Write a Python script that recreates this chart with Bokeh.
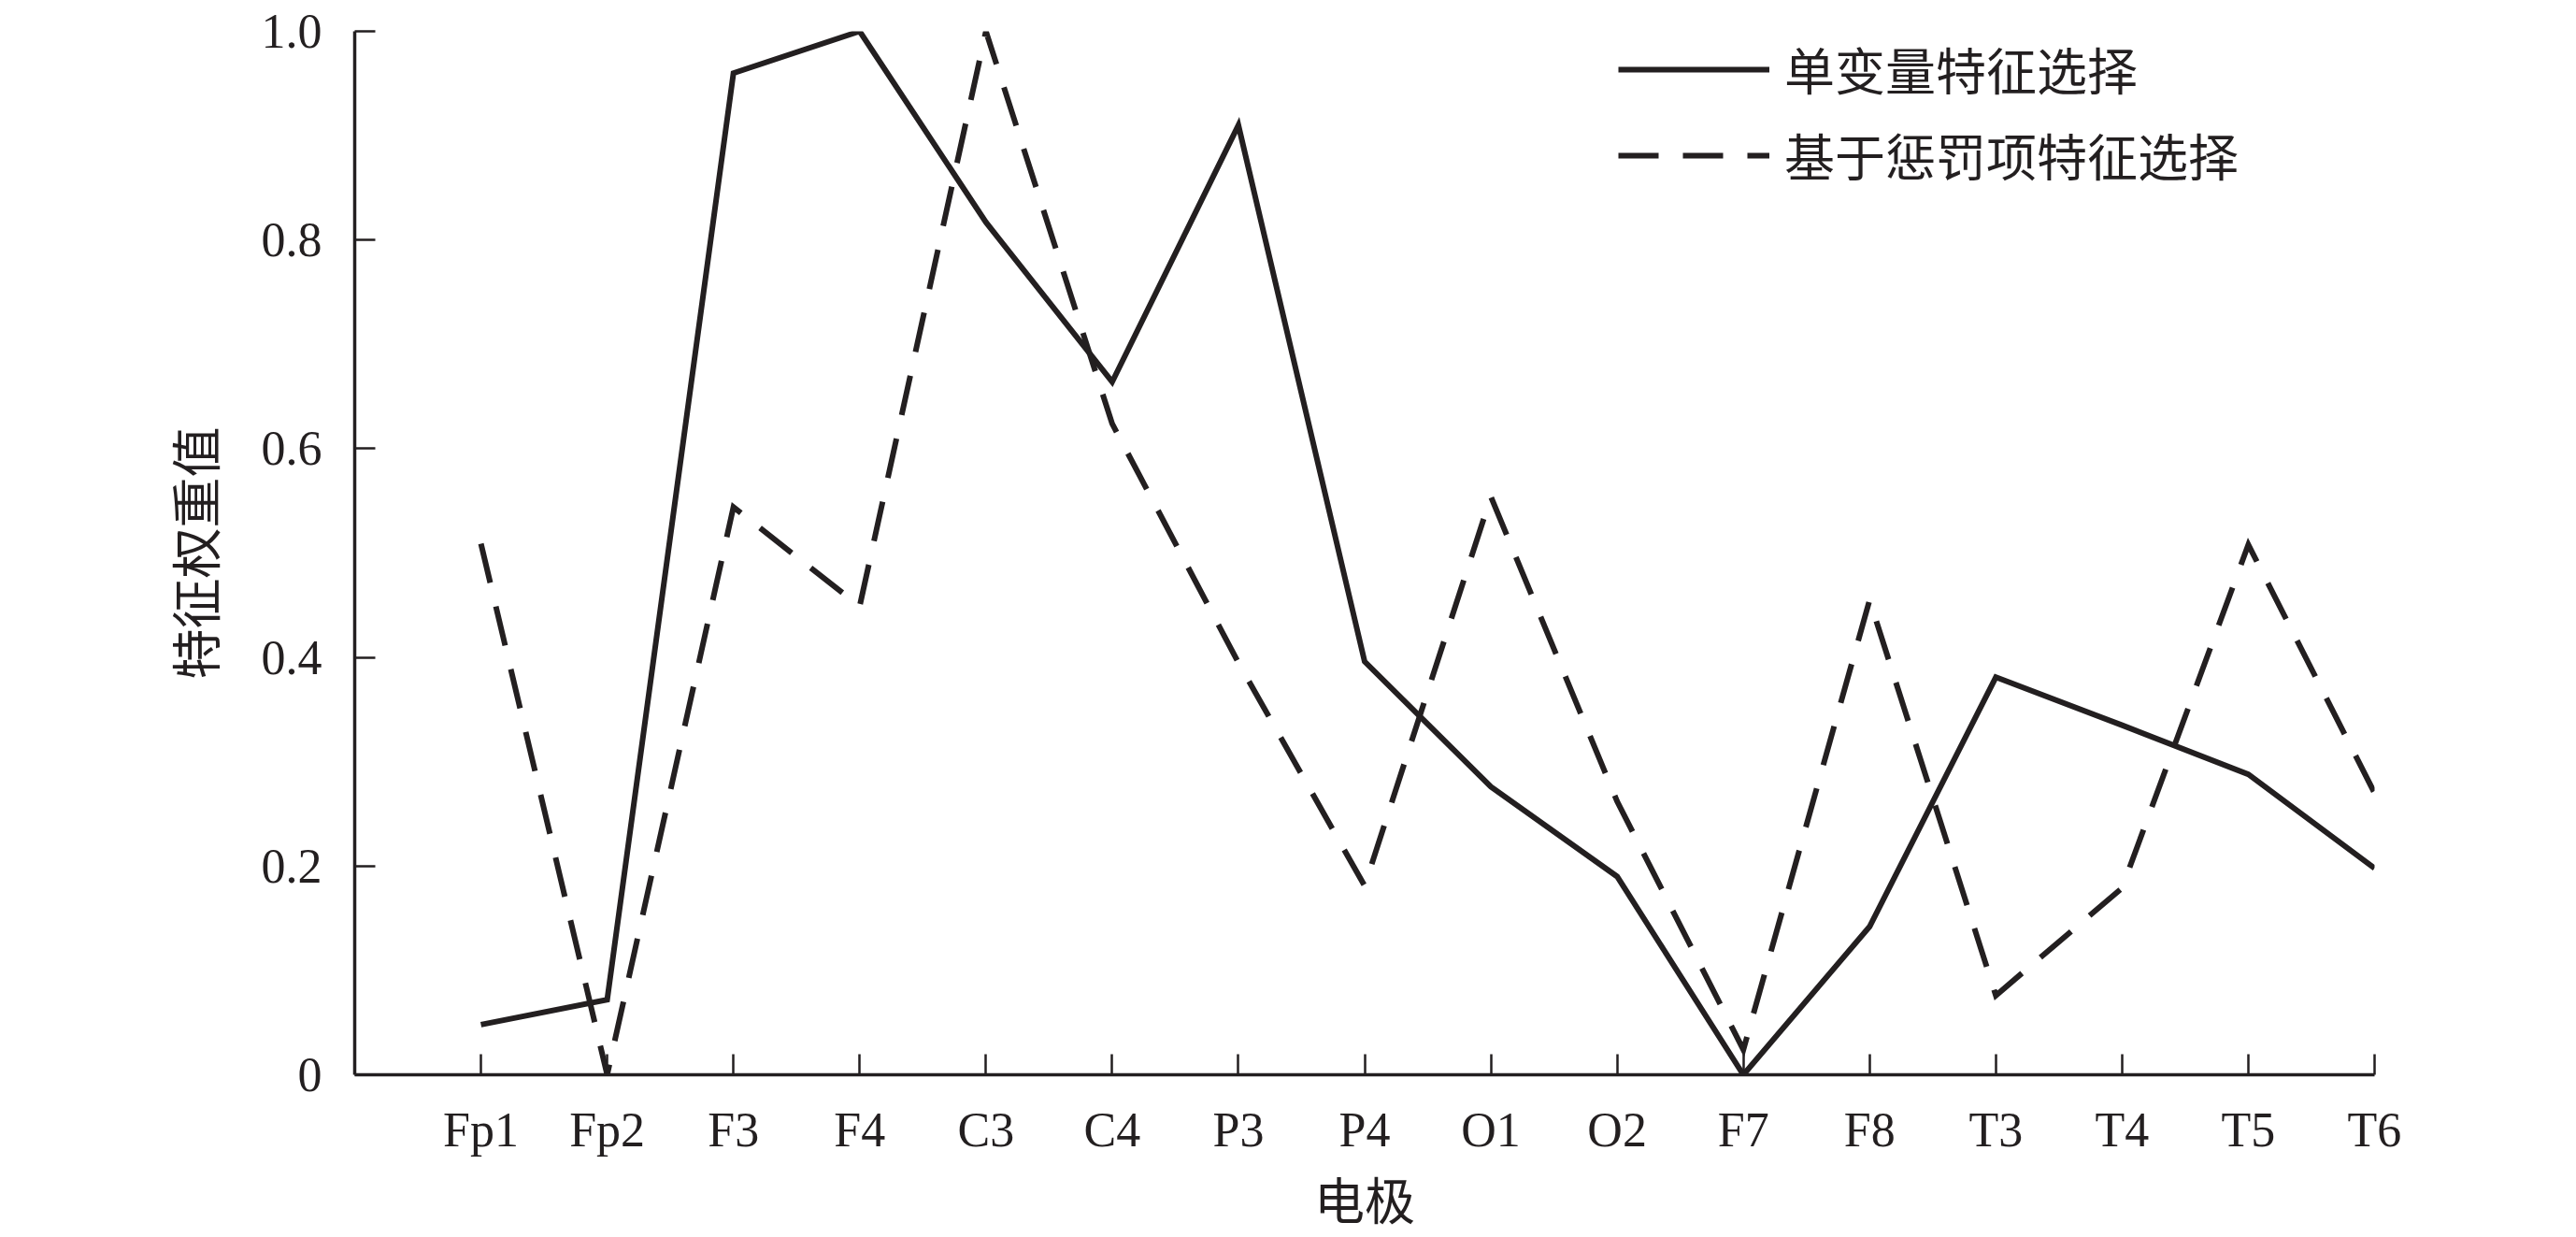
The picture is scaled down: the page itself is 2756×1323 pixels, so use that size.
from bokeh.plotting import figure
from bokeh.models import FixedTicker, Legend, LegendItem, Range1d
from bokeh.embed import file_html
from bokeh.resources import INLINE

categories = ["Fp1", "Fp2", "F3", "F4", "C3", "C4", "P3", "P4",
              "O1", "O2", "F7", "F8", "T3", "T4", "T5", "T6"]
univariate = [0.048, 0.072, 0.960, 1.000, 0.817, 0.664, 0.910, 0.396,
              0.276, 0.190, 0.000, 0.142, 0.381, 0.335, 0.288, 0.198]
penalty = [0.509, 0.000, 0.544, 0.449, 1.000, 0.624, 0.395, 0.181,
           0.554, 0.262, 0.024, 0.455, 0.076, 0.179, 0.508, 0.270]
y_ticks = [0, 0.2, 0.4, 0.6, 0.8, 1.0]
y_tick_labels = ["0", "0.2", "0.4", "0.6", "0.8", "1.0"]
series_names = ["单变量特征选择", "基于惩罚项特征选择"]
x_title = "电极"
y_title = "特征权重值"

INK = "#231f20"
SERIF = "Liberation Serif"
CJK = "Noto Sans CJK SC"

xs = list(range(len(categories)))

p = figure(width=2756, height=1323, output_backend="svg", toolbar_location=None,
           x_range=Range1d(-1, len(categories) - 1), y_range=Range1d(0, 1.0),
           min_border_left=379, min_border_right=216, min_border_top=33,
           min_border_bottom=172)
p.outline_line_color = None
p.xgrid.visible = False
p.ygrid.visible = False
p.background_fill_color = "white"
p.border_fill_color = "white"

r1 = p.line(xs, univariate, line_color=INK, line_width=6, line_join="miter")
r2 = p.line(xs, penalty, line_color=INK, line_width=6, line_join="miter",
            line_dash="43 26")

for ax in (p.xaxis[0], p.yaxis[0]):
    ax.axis_line_color = INK
    ax.axis_line_width = 3.5
    ax.major_tick_line_color = INK
    ax.major_tick_line_width = 2.5
    ax.major_tick_in = 22
    ax.major_tick_out = 0
    ax.minor_tick_line_color = None
    ax.major_label_text_color = INK
    ax.major_label_text_font = SERIF
    ax.axis_label_text_font = CJK
    ax.axis_label_text_font_size = "54px"
    ax.axis_label_text_font_style = "normal"
    ax.axis_label_text_color = INK

p.xaxis.ticker = FixedTicker(ticks=xs)
p.xaxis.major_label_overrides = {i: c for i, c in zip(xs, categories)}
p.xaxis.major_label_text_font_size = "52px"
p.xaxis.major_label_standoff = 30
p.xaxis.axis_label = x_title
p.xaxis.axis_label_standoff = 2

p.yaxis.ticker = FixedTicker(ticks=y_ticks)
p.yaxis.major_label_overrides = {t: s for t, s in zip(y_ticks, y_tick_labels)}
p.yaxis.major_label_text_font_size = "52px"
p.yaxis.major_label_standoff = 35
p.yaxis.axis_label = y_title
p.yaxis.axis_label_standoff = 30

legend = Legend(items=[LegendItem(label=series_names[0], renderers=[r1]),
                       LegendItem(label=series_names[1], renderers=[r2])],
                location=(1352, 944), glyph_width=162, glyph_height=78,
                label_height=78, spacing=13, padding=0, margin=0,
                label_standoff=16, label_text_font=CJK,
                label_text_font_size="54px", label_text_color=INK,
                border_line_color=None, background_fill_alpha=0)
p.add_layout(legend)

open("out.html", "w").write(file_html(p, INLINE))
